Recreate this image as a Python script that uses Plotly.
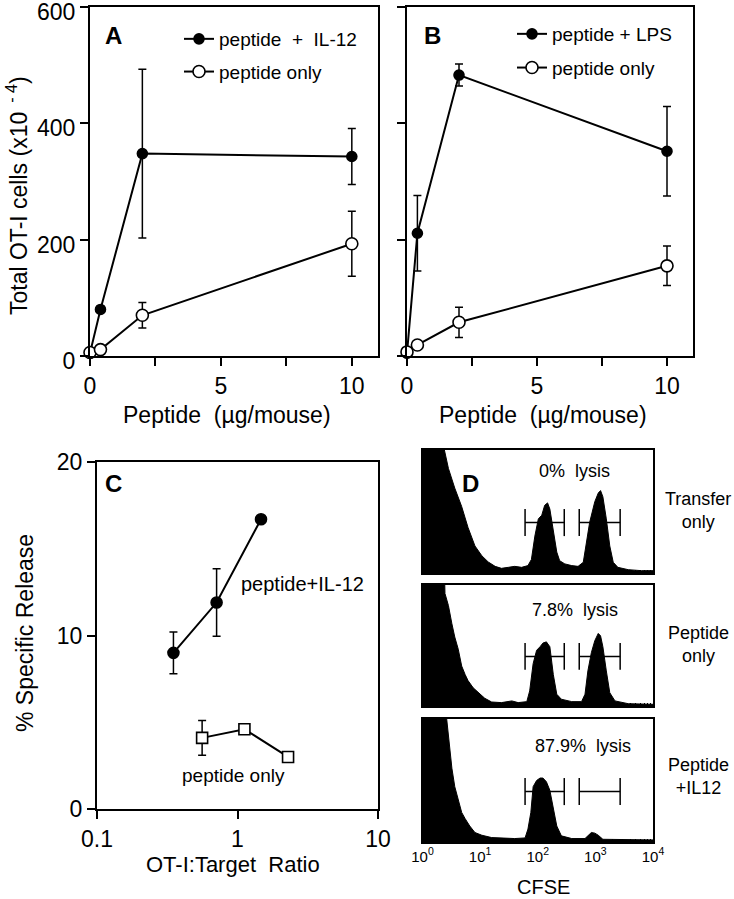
import plotly.graph_objects as go
import numpy as np

W, H = 734, 899
FONT = "Liberation Sans, Arial, sans-serif"

# ---------------- Panel A data ----------------
a_dose = [0, 0.4, 2, 10]
a_il12 = [5, 80, 348, 343]
a_il12_err = [0, 0, 145, 48]
a_only = [6, 11, 70, 193]
a_only_err = [0, 0, 22, 56]

# ---------------- Panel B data ----------------
b_dose = [0, 0.4, 2, 10]
b_lps = [5, 211, 483, 352]
b_lps_err = [0, 65, 19, 77]
b_only = [7, 19, 58, 155]
b_only_err = [0, 0, 26, 34]

# ---------------- Panel C data ----------------
c_ratio_il12 = [0.35, 0.71, 1.47]
c_il12 = [9.0, 11.9, 16.7]
c_il12_err = [1.2, 1.95, 0]
c_ratio_only = [0.56, 1.12, 2.29]
c_only = [4.1, 4.6, 3.0]
c_only_err = [1.0, 0, 0]

# ---------------- Panel D data (log10 CFSE, relative counts) ----------------
d1_log = [0.0, 0.36, 0.38, 0.45, 0.56, 0.68, 0.79, 0.91, 1.03, 1.14, 1.26, 1.37, 1.49,
          1.60, 1.72, 1.83, 1.89, 1.95, 2.01, 2.07, 2.12, 2.17, 2.21, 2.27, 2.33, 2.38,
          2.47, 2.59, 2.70, 2.79, 2.85, 2.90, 2.99, 3.05, 3.09, 3.13, 3.19, 3.25, 3.31,
          3.39, 3.57, 3.80, 4.0]
d1_cnt = [200, 200, 100, 85, 69, 54, 37, 22, 14, 9, 5.4, 3.8, 4.6,
          5.4, 4.6, 6.0, 11, 30, 44, 47, 55, 57, 52, 36, 17, 10,
          7.4, 6.0, 5.4, 8.7, 25, 41, 58, 65, 67, 62, 44, 22, 8.7,
          4.6, 2.7, 1.9, 1.9]

d2_log = [0.0, 0.34, 0.39, 0.45, 0.51, 0.56, 0.62, 0.68, 0.74, 0.79, 0.88, 0.97, 1.08,
          1.20, 1.37, 1.55, 1.66, 1.81, 1.86, 1.92, 1.98, 2.04, 2.09, 2.15, 2.21, 2.27,
          2.33, 2.41, 2.59, 2.76, 2.82, 2.87, 2.93, 2.99, 3.05, 3.09, 3.13, 3.19, 3.25,
          3.34, 3.57, 4.0]
d2_cnt = [200, 200, 93, 83, 68, 57, 47, 33, 26, 21, 15, 11, 6.4,
          3.3, 2.8, 4.2, 2.8, 3.6, 12.5, 35, 46, 49, 52, 53, 49, 26,
          9.7, 5.6, 3.6, 3.6, 9.7, 29, 44, 54, 60, 58, 49, 29, 11,
          4.2, 1.9, 1.4]

d3_log = [0.0, 0.40, 0.42, 0.45, 0.48, 0.51, 0.56, 0.62, 0.68, 0.74, 0.82, 0.91, 1.03,
          1.20, 1.43, 1.60, 1.78, 1.83, 1.88, 1.92, 1.98, 2.04, 2.09, 2.15, 2.21, 2.27,
          2.33, 2.41, 2.59, 2.82, 2.87, 2.93, 2.99, 3.05, 3.13, 3.45, 4.0]
d3_cnt = [200, 200, 100, 88, 71, 60, 45, 34, 24, 19, 13, 7.7, 5.5,
          3.6, 2.8, 2.8, 3.3, 10.5, 24, 45, 50, 52, 52, 49, 42, 27,
          13, 5, 2.8, 2.8, 5, 7.7, 7.2, 5.5, 2.2, 2.2, 1.7]

d_labels = ["0%  lysis", "7.8%  lysis", "87.9%  lysis"]
d_side = ["Transfer<br>only", "Peptide<br>only", "Peptide<br>+IL12"]
gate_left = [1.78, 2.46]    # log10 CFSE bounds of the gates
gate_right = [2.72, 3.43]
gate_level = 41

fig = go.Figure()

def px(x):
    return x / W

def py(y):
    return 1 - y / H

def series(x, y, err, xa, ya, filled, symbol="circle", name=None, legend=None, size=None):
    fig.add_trace(go.Scatter(
        x=x, y=y, mode="lines+markers", xaxis=xa, yaxis=ya, name=name,
        showlegend=name is not None, legend=legend, legendgroup=name,
        cliponaxis=False,
        line=dict(color="black", width=2),
        marker=dict(symbol=symbol, size=size or (10 if filled else 12),
                    color="black" if filled else "white",
                    line=dict(color="black", width=1.6)),
        error_y=dict(type="data", array=err, visible=True, color="black",
                     thickness=1.5, width=4),
    ))

# Panel A
series(a_dose, a_il12, a_il12_err, "x", "y", True, name="peptide  +  IL-12", legend="legend")
series(a_dose, a_only, a_only_err, "x", "y", False, name="peptide only", legend="legend")
# Panel B
series(b_dose, b_lps, b_lps_err, "x2", "y2", True, name="peptide + LPS", legend="legend2")
series(b_dose, b_only, b_only_err, "x2", "y2", False, name="peptide only ", legend="legend2")
# Panel C
series(c_ratio_il12, c_il12, c_il12_err, "x3", "y3", True, size=11)
series(c_ratio_only, c_only, c_only_err, "x3", "y3", False, symbol="square", size=11)

# Panel D histograms
for i, (lx, cy) in enumerate([(d1_log, d1_cnt), (d2_log, d2_cnt), (d3_log, d3_cnt)]):
    fig.add_trace(go.Scatter(
        x=lx, y=cy, mode="lines", fill="tozeroy", fillcolor="black",
        line=dict(color="black", width=1), xaxis=f"x{4+i}", yaxis=f"y{4+i}",
        showlegend=False, cliponaxis=True,
    ))

axfont = dict(family=FONT, size=23, color="black")
common = dict(showline=True, linewidth=2, linecolor="black", mirror=True,
              ticks="outside", ticklen=8, tickwidth=2, tickcolor="black",
              showgrid=False, zeroline=False, tickfont=axfont, automargin=False,
              ticklabeloverflow="allow")
half_ticks = dict(tickvals=[2.5, 7.5], ticks="outside", ticklen=8, tickwidth=2,
                  tickcolor="black", showgrid=False)

dom_ab_y = [py(356), py(7)]
layout = dict(
    width=W, height=H, margin=dict(l=0, r=0, t=0, b=0, pad=0, autoexpand=False),
    paper_bgcolor="white", plot_bgcolor="white",
    font=dict(family=FONT, color="black"),
    xaxis=dict(domain=[px(90), px(378)], range=[0, 11], anchor="y",
               tickvals=[0, 5, 10], minor=half_ticks, **common),
    yaxis=dict(domain=dom_ab_y, range=[0, 600], anchor="x", ticklabelshift=5,
               tickvals=[0, 200, 400, 600], **common),
    xaxis2=dict(domain=[px(407), px(693)], range=[0, 11], anchor="y2",
                tickvals=[0, 5, 10], minor=half_ticks, **common),
    yaxis2=dict(domain=dom_ab_y, range=[0, 600], anchor="x2",
                tickvals=[0, 200, 400, 600], showticklabels=False, **common),
    xaxis3=dict(domain=[px(97), px(378)], type="log", range=[-1, 1], anchor="y3",
                tickvals=[0.1, 1, 10], ticktext=["0.1", "1", "10"], **common),
    yaxis3=dict(domain=[py(809), py(462)], range=[0, 20], anchor="x3",
                tickvals=[0, 10, 20], **common),
)

d_ydoms = [[py(573), py(450)], [py(706), py(585)], [py(842), py(719)]]
minor_vals = [d + float(np.log10(m)) for d in range(4) for m in range(2, 10)]
for i in range(3):
    layout[f"xaxis{4+i}"] = dict(
        domain=[px(422.5), px(653)], range=[0, 4], anchor=f"y{4+i}",
        showline=True, linewidth=1.5, linecolor="black", mirror=True,
        showgrid=False, zeroline=False, automargin=False,
        ticks="inside", ticklen=6, tickwidth=1.2, tickcolor="black",
        tickvals=[0, 1, 2, 3, 4],
        ticktext=["10<sup>0</sup>", "10<sup>1</sup>", "10<sup>2</sup>", "10<sup>3</sup>", "10<sup>4</sup>"],
        showticklabels=(i == 2), tickfont=dict(family=FONT, size=15, color="black"),
        minor=dict(tickvals=minor_vals, ticks="inside", ticklen=3, tickwidth=1, tickcolor="black"),
    )
    layout[f"yaxis{4+i}"] = dict(
        domain=d_ydoms[i], range=[0, 100], anchor=f"x{4+i}",
        showline=True, linewidth=1.5, linecolor="black", mirror=True,
        showgrid=False, zeroline=False, automargin=False,
        ticks="inside", ticklen=4, tickwidth=1,
        tickcolor="black", dtick=100 / 13, tick0=0, showticklabels=False,
    )

legfont = dict(family=FONT, size=19, color="black")
layout["legend"] = dict(x=px(179), y=py(20), xanchor="left", yanchor="top",
                        bgcolor="rgba(0,0,0,0)", font=legfont, tracegroupgap=5,
                        itemwidth=30)
layout["legend2"] = dict(x=px(512), y=py(15), xanchor="left", yanchor="top",
                         bgcolor="rgba(0,0,0,0)", font=legfont, tracegroupgap=6,
                         itemwidth=30)

fig.update_layout(**layout)

ann = []
def text(x, y, s, size=18, angle=0, xanchor="center", align="center"):
    ann.append(dict(x=px(x), y=py(y), xref="paper", yref="paper", text=s,
                    showarrow=False, textangle=angle, xanchor=xanchor, yanchor="middle",
                    align=align,
                    font=dict(family=FONT, size=size, color="black")))

text(114, 36, "<b>A</b>", size=24)
text(432, 35, "<b>B</b>", size=24)
text(114, 483, "<b>C</b>", size=24)
text(470, 483, "<b>D</b>", size=24)
text(17, 196, "Total OT-I cells (x10<sup>  - 4</sup>)", size=23, angle=-90)
text(227, 415, "Peptide  (µg/mouse)", size=23)
text(543, 415, "Peptide  (µg/mouse)", size=23)
text(25, 633, "% Specific Release", size=23, angle=-90)
text(233, 864, "OT-I:Target  Ratio", size=22)
text(543, 887, "CFSE", size=20)
text(302, 584, "peptide+IL-12", size=20)
text(233, 775, "peptide only", size=19)

lys_y = [471, 610, 746]
lys_x = [574, 575, 583]
side_y = [511, 644, 776]
for i in range(3):
    text(lys_x[i], lys_y[i], d_labels[i], size=18)
    text(698, side_y[i], d_side[i], size=18)

fig.update_layout(annotations=ann)

# gates
shapes = []
for i in range(3):
    xr, yr = f"x{4+i}", f"y{4+i}"
    for g in (gate_left, gate_right):
        shapes.append(dict(type="line", xref=xr, yref=yr, x0=g[0], x1=g[1],
                           y0=gate_level, y1=gate_level, line=dict(color="black", width=1.5)))
        for gx in g:
            shapes.append(dict(type="line", xref=xr, yref=yr, x0=gx, x1=gx,
                               y0=gate_level - 11, y1=gate_level + 11,
                               line=dict(color="black", width=1.5)))
fig.update_layout(shapes=shapes)

fig.write_html("out.html", config={"displayModeBar": False},
               post_script="document.body.style.margin='0';")
